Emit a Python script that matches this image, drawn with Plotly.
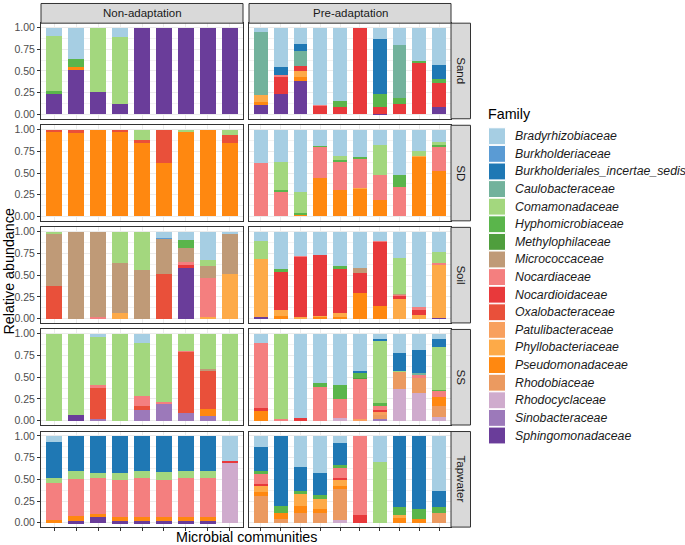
import plotly.graph_objects as go

FAMILIES = [
    "Bradyrhizobiaceae", "Burkholderiaceae", "Burkholderiales_incertae_sedis",
    "Caulobacteraceae", "Comamonadaceae", "Hyphomicrobiaceae", "Methylophilaceae",
    "Micrococcaceae", "Nocardiaceae", "Nocardioidaceae", "Oxalobacteraceae",
    "Patulibacteraceae", "Phyllobacteriaceae", "Pseudomonadaceae", "Rhodobiaceae",
    "Rhodocyclaceae", "Sinobacteraceae", "Sphingomonadaceae",
]
COLORS = [
    "#A6CEE3", "#5A9BD4", "#1F78B4", "#72B29C", "#A3D77E", "#5AB54B", "#4F9E3D",
    "#BF9A77", "#F47F7F", "#E8393B", "#E9503A", "#F8A05E", "#FDAA48", "#FF8810",
    "#EB9A60", "#CFABCD", "#9C79BA", "#6A3D9A",
]

CONDITIONS = ["Non-adaptation", "Pre-adaptation"]
MEDIA = ["Sand", "SD", "Soil", "SS", "Tapwater"]
SAMPLES_NON = [f"N{i}" for i in range(1, 10)]
SAMPLES_PRE = [f"P{i}" for i in range(1, 11)]

SAND_NON = {
    "Bradyrhizobiaceae": [.095, .36, 0, .11, 0, 0, 0, 0, 0],
    "Comamonadaceae": [.64, 0, .74, .77, 0, 0, 0, 0, 0],
    "Hyphomicrobiaceae": [.025, .10, 0, 0, 0, 0, 0, 0, 0],
    "Pseudomonadaceae": [0, .02, 0, 0, 0, 0, 0, 0, 0],
    "Sphingomonadaceae": [.24, .52, .26, .12, 1, 1, 1, 1, 1],
}
SAND_PRE = {
    "Bradyrhizobiaceae": [.05, .45, .19, .89, .845, 0, .13, .20, .38, .43],
    "Burkholderiales_incertae_sedis": [0, .10, .08, 0, 0, 0, .64, 0, 0, .16],
    "Caulobacteraceae": [.73, 0, .175, 0, 0, 0, 0, .61, 0, 0],
    "Hyphomicrobiaceae": [0, 0, 0, 0, .075, 0, .14, .07, .03, .05],
    "Nocardiaceae": [0, .02, 0, .01, 0, 0, 0, 0, 0, 0],
    "Nocardioidaceae": [0, .19, .05, .10, .08, 1.0, .08, .12, .59, .27],
    "Phyllobacteriaceae": [.08, 0, .075, 0, 0, 0, 0, 0, 0, 0],
    "Pseudomonadaceae": [.03, 0, .04, 0, 0, 0, 0, 0, 0, 0],
    "Sphingomonadaceae": [.11, .24, .39, 0, 0, 0, .01, 0, 0, .09],
}
SD_NON = {
    "Comamonadaceae": [0, 0, 0, 0, .12, 0, .03, 0, .06],
    "Oxalobacteraceae": [.03, .035, 0, .02, .03, .39, 0, 0, .095],
    "Pseudomonadaceae": [.97, .965, 1, .98, .85, .61, .97, 1, .845],
}
SD_PRE = {
    "Bradyrhizobiaceae": [.38, .37, .72, .185, .305, .31, .176, .527, .25, .137],
    "Comamonadaceae": [0, .32, .235, 0, .04, 0, .347, 0, .05, .039],
    "Hyphomicrobiaceae": [0, .02, .02, .015, .033, .026, 0, .133, 0, .024],
    "Nocardiaceae": [.62, .29, 0, .36, .317, .334, .287, .34, 0, .277],
    "Phyllobacteriaceae": [0, 0, 0, 0, 0, .013, 0, 0, .01, 0],
    "Pseudomonadaceae": [0, 0, .025, .44, .305, .317, .19, 0, .69, .523],
}
SOIL_NON = {
    "Bradyrhizobiaceae": [0, 0, 0, 0, 0, .07, .10, .32, .03],
    "Burkholderiaceae": [0, 0, 0, 0, 0, .017, 0, 0, 0],
    "Comamonadaceae": [.023, 0, 0, .365, .44, 0, 0, .08, 0],
    "Hyphomicrobiaceae": [0, 0, 0, 0, 0, 0, .083, 0, 0],
    "Micrococcaceae": [.597, 1, .98, .575, .56, .40, .163, .13, .46],
    "Nocardiaceae": [0, 0, .02, 0, 0, 0, .042, .45, 0],
    "Nocardioidaceae": [0, 0, 0, 0, 0, 0, .032, 0, 0],
    "Oxalobacteraceae": [.38, 0, 0, 0, 0, .513, 0, 0, 0],
    "Phyllobacteriaceae": [0, 0, 0, .06, 0, 0, 0, .02, .51],
    "Sphingomonadaceae": [0, 0, 0, 0, 0, 0, .58, 0, 0],
}
SOIL_PRE = {
    "Bradyrhizobiaceae": [.11, .43, .28, .27, .392, .42, .11, .304, .867, .23],
    "Comamonadaceae": [.20, 0, 0, 0, 0, 0, 0, .416, 0, .13],
    "Hyphomicrobiaceae": [0, .03, 0, 0, .038, 0, 0, 0, 0, 0],
    "Micrococcaceae": [0, 0, 0, 0, 0, .05, 0, .01, 0, 0],
    "Nocardiaceae": [0, 0, .005, 0, 0, 0, .012, .01, .038, .02],
    "Nocardioidaceae": [0, .44, .695, .695, .50, .233, .73, .032, .055, 0],
    "Phyllobacteriaceae": [.67, .07, .02, .015, .05, 0, 0, .228, .04, .61],
    "Pseudomonadaceae": [0, .03, 0, .02, .02, .297, .148, 0, 0, 0],
    "Sphingomonadaceae": [.02, 0, 0, 0, 0, 0, 0, 0, 0, .01],
}
SS_NON = {
    "Bradyrhizobiaceae": [0, 0, .038, 0, .111, 0, 0, 0, 0],
    "Comamonadaceae": [1, .93, .546, 1, .603, .782, .202, .41, 1],
    "Micrococcaceae": [0, 0, 0, 0, 0, 0, 0, .017, 0],
    "Nocardiaceae": [0, 0, .036, 0, .122, .031, .01, 0, 0],
    "Oxalobacteraceae": [0, 0, .36, 0, .046, 0, .70, .443, 0],
    "Pseudomonadaceae": [0, 0, 0, 0, 0, 0, 0, .073, 0],
    "Sinobacteraceae": [0, 0, .02, 0, .118, .187, .088, .057, 0],
    "Sphingomonadaceae": [0, .07, 0, 0, 0, 0, 0, 0, 0],
}
SS_PRE = {
    "Bradyrhizobiaceae": [.107, 0, .968, .57, .595, .43, .06, .22, .191, .06],
    "Burkholderiales_incertae_sedis": [0, 0, 0, 0, 0, .02, .02, .21, .256, .089],
    "Caulobacteraceae": [0, 0, 0, 0, 0, 0, 0, 0, .026, 0],
    "Comamonadaceae": [0, .98, 0, 0, 0, 0, .722, .013, 0, .496],
    "Hyphomicrobiaceae": [0, 0, 0, .045, .155, .054, .028, 0, 0, .015],
    "Methylophilaceae": [0, 0, 0, 0, 0, .016, 0, 0, 0, 0],
    "Nocardiaceae": [.744, .02, .005, .385, .225, .46, .05, 0, .031, .065],
    "Nocardioidaceae": [.042, 0, .027, 0, 0, 0, .02, 0, 0, 0],
    "Patulibacteraceae": [0, 0, 0, 0, 0, .02, .04, 0, 0, 0],
    "Pseudomonadaceae": [.107, 0, 0, 0, 0, 0, 0, 0, 0, .111],
    "Rhodobiaceae": [0, 0, 0, 0, 0, 0, .04, .187, .172, .126],
    "Rhodocyclaceae": [0, 0, 0, 0, .025, 0, 0, .37, .324, .038],
    "Sinobacteraceae": [0, 0, 0, 0, 0, 0, .02, 0, 0, 0],
}
TAP_NON = {
    "Bradyrhizobiaceae": [.07, 0, 0, 0, 0, 0, 0, 0, .285],
    "Burkholderiales_incertae_sedis": [.417, .40, .433, .422, .40, .42, .40, .40, 0],
    "Comamonadaceae": [.057, .10, .054, .088, .085, .09, .09, .085, 0],
    "Nocardiaceae": [.422, .42, .413, .425, .445, .425, .44, .45, 0],
    "Nocardioidaceae": [0, 0, 0, 0, 0, 0, 0, 0, .015],
    "Pseudomonadaceae": [.034, .06, .035, .05, .055, .05, .055, .05, 0],
    "Rhodocyclaceae": [0, 0, 0, 0, 0, 0, 0, 0, .70],
    "Sphingomonadaceae": [0, .02, .065, .015, .015, .015, .015, .015, 0],
}
TAP_PRE = {
    "Bradyrhizobiaceae": [.13, 0, .36, .433, .08, 0, .304, 0, 0, .64],
    "Burkholderiales_incertae_sedis": [.277, .81, .275, .247, .255, 0, 0, .82, .844, .18],
    "Comamonadaceae": [0, 0, 0, 0, 0, 0, .696, 0, 0, 0],
    "Hyphomicrobiaceae": [.033, .075, .02, .046, .035, 0, 0, .093, .114, .066],
    "Nocardiaceae": [.115, 0, 0, 0, .12, .907, 0, 0, 0, 0],
    "Nocardioidaceae": [.015, 0, 0, 0, .01, .093, 0, 0, 0, 0],
    "Phyllobacteriaceae": [.08, 0, .15, .118, .078, 0, 0, .027, 0, 0],
    "Pseudomonadaceae": [.04, .07, .08, .046, .022, 0, 0, .06, .042, 0],
    "Rhodobiaceae": [.31, .045, .115, .11, .365, 0, 0, 0, 0, .114],
    "Rhodocyclaceae": [0, 0, 0, 0, .035, 0, 0, 0, 0, 0],
}

PANELS = [
    [SAND_NON, SAND_PRE],
    [SD_NON, SD_PRE],
    [SOIL_NON, SOIL_PRE],
    [SS_NON, SS_PRE],
    [TAP_NON, TAP_PRE],
]

W, H = 685, 545
FONT = "Liberation Sans, Arial, sans-serif"


def fx(px):
    return px / W


def fy(py):
    return 1 - py / H


def label(x, y, text, size, color="#1A1A1A", xanchor="center", angle=0):
    return dict(xref="paper", yref="paper", x=fx(x), y=fy(y), text=text,
                xanchor=xanchor, yanchor="middle", textangle=angle,
                showarrow=False, font=dict(size=size, color=color, family=FONT))


COL_X = [(41, 243), (249, 451)]
ROW_TOP0, ROW_STEP, ROW_H = 21.3, 102.65, 96.1
STRIP_R = (451, 470.5)
STRIP_T = (1.5, 21.3)

fig = go.Figure()
layout = {}
shapes = []
annotations = []
color_of = dict(zip(FAMILIES, COLORS))

for r, row in enumerate(PANELS):
    top = ROW_TOP0 + r * ROW_STEP
    bottom = top + ROW_H
    for c, data in enumerate(row):
        k = r * 2 + c + 1
        xa = "x" if k == 1 else f"x{k}"
        ya = "y" if k == 1 else f"y{k}"
        samples = SAMPLES_NON if c == 0 else SAMPLES_PRE
        # bottom of stack = last family in legend order
        for fam in reversed(FAMILIES):
            if fam not in data:
                continue
            fig.add_trace(go.Bar(
                x=samples, y=data[fam], xaxis=xa, yaxis=ya,
                marker=dict(color=color_of[fam], line=dict(width=0)),
                name=fam, showlegend=False,
                hovertemplate=f"{fam}: %{{y}}<extra></extra>",
            ))
        x0, x1 = COL_X[c]
        layout["xaxis" if k == 1 else f"xaxis{k}"] = dict(
            domain=[fx(x0), fx(x1)], anchor=ya,
            type="category", categoryarray=samples, categoryorder="array",
            range=[-0.6, len(samples) - 0.4],
            showgrid=True, gridcolor="#EBEBEB", gridwidth=1,
            showline=True, mirror=True, linecolor="#333333", linewidth=1,
            showticklabels=False,
            ticks="outside" if r == len(PANELS) - 1 else "",
            ticklen=3, tickcolor="#333333", tickwidth=1,
            zeroline=False, fixedrange=True,
        )
        layout["yaxis" if k == 1 else f"yaxis{k}"] = dict(
            domain=[fy(bottom), fy(top)], anchor=xa,
            range=[-0.05, 1.05],
            tickvals=[0, 0.25, 0.5, 0.75, 1.0],
            ticktext=["0.00", "0.25", "0.50", "0.75", "1.00"],
            showticklabels=(c == 0),
            ticks="outside" if c == 0 else "",
            ticklen=3, tickcolor="#333333", tickwidth=1,
            tickfont=dict(size=10.5, color="#4D4D4D", family=FONT),
            showgrid=True, gridcolor="#EBEBEB", gridwidth=1,
            minor=dict(tickvals=[0.125, 0.375, 0.625, 0.875], showgrid=True,
                       gridcolor="#F2F2F2", gridwidth=0.6, ticks=""),
            showline=True, mirror=True, linecolor="#333333", linewidth=1,
            zeroline=False, fixedrange=True,
        )
    # right strip
    shapes.append(dict(type="rect", xref="paper", yref="paper",
                       x0=fx(STRIP_R[0]), x1=fx(STRIP_R[1]),
                       y0=fy(bottom), y1=fy(top),
                       fillcolor="#D9D9D9", line=dict(color="#333333", width=1)))
    annotations.append(label((STRIP_R[0] + STRIP_R[1]) / 2, (top + bottom) / 2,
                             MEDIA[r], 11.5, angle=90))

# top strips
for c, cond in enumerate(CONDITIONS):
    x0, x1 = COL_X[c]
    shapes.append(dict(type="rect", xref="paper", yref="paper",
                       x0=fx(x0), x1=fx(x1), y0=fy(STRIP_T[1]), y1=fy(STRIP_T[0]),
                       fillcolor="#D9D9D9", line=dict(color="#333333", width=1)))
    annotations.append(label((x0 + x1) / 2, (STRIP_T[0] + STRIP_T[1]) / 2, cond, 11.5))

# axis titles
annotations.append(label(246, 538, "Microbial communities", 14.3, color="black"))
annotations.append(label(9, 271, "Relative abundance", 14.3, color="black", angle=-90))

# legend drawn by hand (ggplot-like keys)
LEG_X, LEG_Y0, LEG_STEP, KEY = 488.5, 135, 17.7, 17
annotations.append(label(486, 113, "Family", 14.3, color="black", xanchor="left"))
for i, (fam, col) in enumerate(zip(FAMILIES, COLORS)):
    yc = LEG_Y0 + i * LEG_STEP
    shapes.append(dict(type="rect", xref="paper", yref="paper",
                       x0=fx(LEG_X), x1=fx(LEG_X + KEY),
                       y0=fy(yc + KEY / 2), y1=fy(yc - KEY / 2),
                       fillcolor=col, line=dict(color="white", width=1)))
    annotations.append(label(512.5, yc, f"<i>{fam}</i>", 12.3, xanchor="left"))

fig.update_layout(
    **layout,
    barmode="stack", bargap=0.3,
    width=W, height=H, autosize=False,
    margin=dict(l=0, r=0, t=0, b=0),
    paper_bgcolor="white", plot_bgcolor="white",
    shapes=shapes, annotations=annotations,
    font=dict(family=FONT),
    showlegend=False,
)

fig.write_html("out.html", config={"displayModeBar": False},
               post_script="document.body.style.margin='0';")
